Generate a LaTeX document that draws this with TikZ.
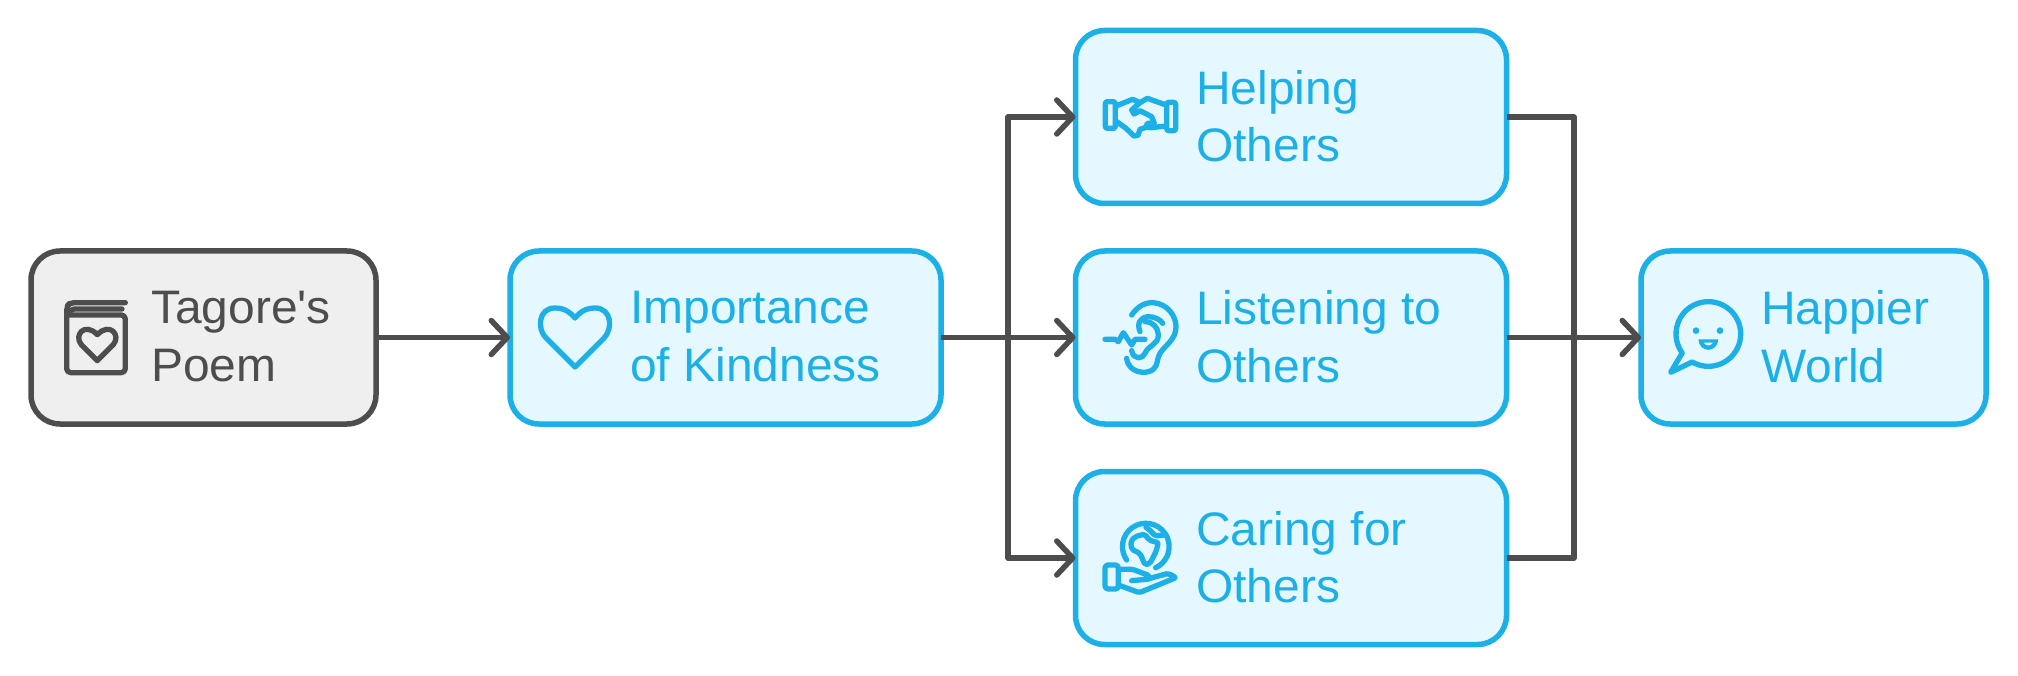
\documentclass[tikz,border=0pt]{standalone}
\usepackage{fontspec}
\setmainfont{Liberation Sans}[Ligatures=TeXOff,FakeStretch=1.02]
\usetikzlibrary{arrows.meta}
\definecolor{ink}{HTML}{4D4D4D}
\definecolor{sky}{HTML}{1CB0E6}
\definecolor{skyfill}{HTML}{E5F7FF}
\definecolor{greyfill}{HTML}{EFEFEF}
\tikzset{
  panel/.style={rounded corners=29pt,line width=5.5pt,minimum height=173pt,inner sep=0pt,outer sep=0pt},
  bluepanel/.style={panel,draw=sky,fill=skyfill},
  greypanel/.style={panel,draw=ink,fill=greyfill},
  caption/.style={anchor=west,align=left,inner sep=0pt,font=\fontsize{47}{57.5}\selectfont},
  link/.style={draw=ink,line width=5.5pt,line join=round},
  linkhead/.style={link,-{Straight Barb[length=16pt,width=34pt,round,line width=5.5pt]}},
  glyph/.style={line width=5.3pt,line cap=round,line join=round},
  zoomed/.style={x=0.3333pt,y=-0.3333pt}
}
\begin{document}
\begin{tikzpicture}[x=1pt,y=-1pt]
\useasboundingbox (0,0) rectangle (2018,676);
\fill[white] (0,0) rectangle (2018,676);

% Boxes
\node[greypanel,minimum width=345pt] (poem) at (203.5,337.5) {};
\node[bluepanel,minimum width=431pt] (kind) at (725.5,337.5) {};
\node[bluepanel,minimum width=431pt] (help) at (1291,117) {};
\node[bluepanel,minimum width=431pt] (listen) at (1291,337.5) {};
\node[bluepanel,minimum width=431pt] (care) at (1291,558) {};
\node[bluepanel,minimum width=345pt] (world) at (1813.5,337.5) {};

% Captions
\node[caption,text=ink] (poemtext) at (151,336.5) {Tagore's\\Poem};
\node[caption,text=sky] (kindtext) at (630,336.5) {Importance\\of Kindness};
\node[caption,text=sky] (helptext) at (1196,116) {Helping\\Others};
\node[caption,text=sky] (listentext) at (1196,336.5) {Listening to\\Others};
\node[caption,text=sky] (caretext) at (1196,557) {Caring for\\Others};
\node[caption,text=sky] (worldtext) at (1761,336.5) {Happier\\World};

% Junction columns of the connector bundles
\coordinate (split) at (1008,337.5);
\coordinate (merge) at (1574,337.5);

% Connectors
\draw[linkhead] (poem.east) -- (kind.west);
\draw[linkhead] (kind.east) -- (listen.west);
\draw[linkhead] (split) |- (help.west);
\draw[linkhead] (split) |- (care.west);
\draw[linkhead] (listen.east) -- (world.west);
\draw[link] (help.east) -| (merge);
\draw[link] (care.east) -| (merge);

% Book with a heart
\begin{scope}[shift={(20,240)},zoomed,glyph,draw=ink]
  \draw[rounded corners=4pt] (316,188) -- (150,188) -- (140,200) -- (140,398) -- (316,398) -- (316,225) -- (146,225);
  \draw[rounded corners=2pt] (306,207) -- (156,207) -- (148,216);
  \draw (232,362) -- (184,314) .. controls (160,285) and (195,245) .. (232,284) .. controls (269,245) and (304,285) .. (280,314) -- cycle;
\end{scope}

% Large heart
\begin{scope}[shift={(575,318)},glyph,draw=sky]
  \draw (0,49) -- (-29,20) .. controls (-38,11) and (-37,-10) .. (-20,-10) .. controls (-10,-10) and (-4,-5) .. (0,0) .. controls (4,-5) and (10,-10) .. (20,-10) .. controls (37,-10) and (38,11) .. (29,20) -- cycle;
\end{scope}

% Handshake
\begin{scope}[shift={(1060,90)},zoomed,glyph,draw=sky]
  \draw[rounded corners=2pt] (136,35) rectangle (166,115);
  \draw[rounded corners=2pt] (320,37) rectangle (347,122);
  \draw (168,48) -- (218,28) -- (240,38) -- (215,60) -- (222,72) -- (240,62) -- (275,80) -- (283,100) -- (262,100) -- (258,112) -- (240,118) -- (234,136) -- (222,138) -- (198,115) -- (170,95);
  \draw (240,38) -- (262,25) -- (318,45);
  \draw (318,108) -- (275,113) -- (258,112);
\end{scope}

% Ear with a sound wave
\begin{scope}[shift={(1090,290)},zoomed,glyph,draw=sky]
  \draw (125,75) .. controls (145,45) and (170,37) .. (190,38) .. controls (235,42) and (258,80) .. (258,110) .. controls (258,150) and (225,165) .. (210,190) .. controls (200,205) and (205,225) .. (190,238) .. controls (170,255) and (115,250) .. (110,205);
  \draw (150,125) .. controls (140,100) and (150,82) .. (175,80) .. controls (195,80) and (212,90) .. (218,100);
  \draw (165,95) .. controls (190,95) and (205,115) .. (205,135) .. controls (205,165) and (175,165) .. (165,190) .. controls (158,208) and (130,210) .. (125,182);
  \draw (45,148) -- (75,148) -- (85,155) -- (100,128) -- (125,165) -- (135,148) -- (165,148);
\end{scope}

% Globe held in a hand
\begin{scope}[shift={(1090,510)},zoomed,glyph,draw=sky]
  \draw (110,150) arc[start angle=145,end angle=425,radius=70];
  \draw[rounded corners=2pt] (135,80) -- (165,72) -- (175,88) -- (190,95) -- (205,97) -- (198,125) -- (180,160) -- (165,165) -- (150,130) -- (125,118) -- (122,95) -- cycle;
  \draw[rounded corners=2pt] (168,52) -- (185,65) -- (195,78) -- (222,75);
  \draw[rounded corners=3pt] (45,165) rectangle (85,237);
  \draw[rounded corners=2pt] (85,178) -- (128,178) -- (178,197) -- (180,207) -- (125,212);
  \draw[rounded corners=2pt] (85,225) -- (148,248) -- (258,203) -- (235,190) -- (180,205);
\end{scope}

% Smiling speech bubble
\begin{scope}[shift={(1650,285)},zoomed,glyph,draw=sky]
  \draw (96.5,204) -- (62,262) -- (126.5,231) arc[start angle=120,end angle=-216,radius=97];
  \fill[sky] (138,137) circle[radius=10];
  \fill[sky] (210,137) circle[radius=10];
  \fill[sky] (145,163) .. controls (148,205) and (202,205) .. (205,163) -- cycle;
  \fill[skyfill] (161,173) .. controls (170,184) and (180,184) .. (189,173) -- cycle;
\end{scope}
\end{tikzpicture}
\end{document}
